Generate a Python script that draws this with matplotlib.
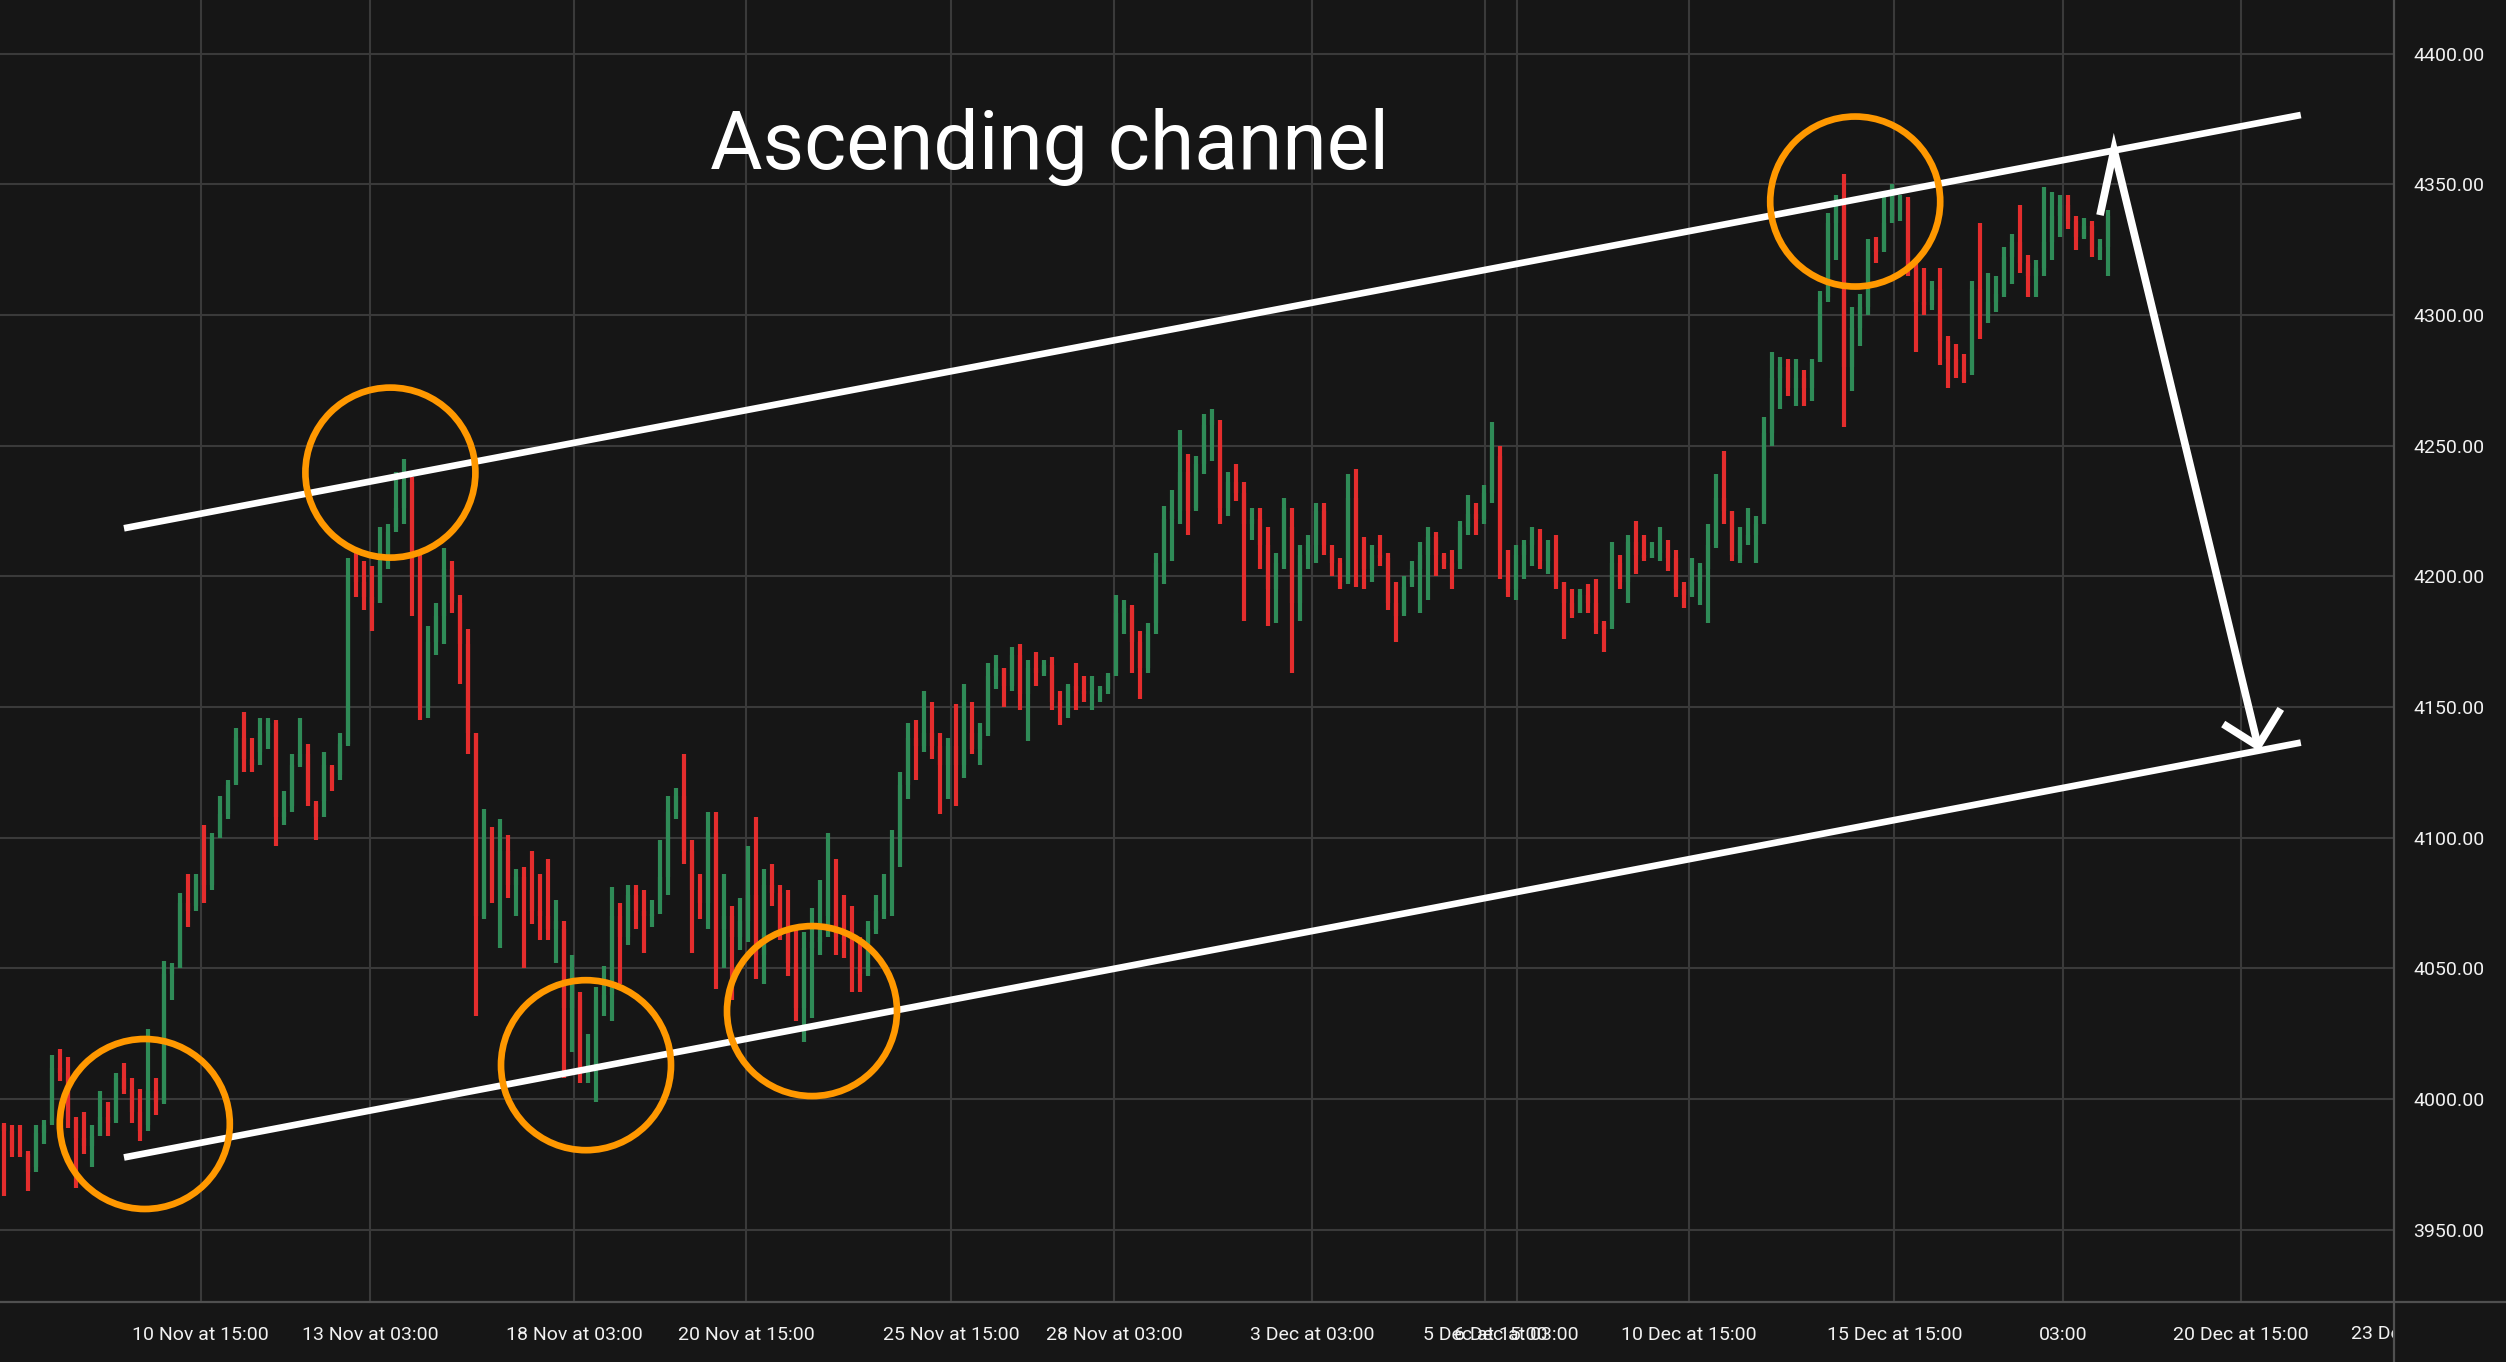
import matplotlib
matplotlib.use('Agg')
import matplotlib.pyplot as plt
from matplotlib.patches import Ellipse
from matplotlib.lines import Line2D
from matplotlib.transforms import Bbox, TransformedBbox, blended_transform_factory
from matplotlib.ticker import FormatStrFormatter

# ---------------- data ----------------
highs = [3991, 3990, 3990, 3980, 3990, 3992, 4017, 4019, 4016, 3993,
         3995, 3990, 4003, 3999, 4010, 4014, 4008, 4004, 4027, 4008,
         4053, 4052, 4079, 4086, 4086, 4105, 4102, 4116, 4122, 4142,
         4148, 4138, 4146, 4146, 4145, 4118, 4132, 4146, 4136, 4113,
         4133, 4127, 4140, 4207, 4210, 4206, 4204, 4219, 4220, 4240,
         4245, 4238, 4209, 4181, 4190, 4211, 4206, 4193, 4180, 4140,
         4111, 4104, 4107, 4101, 4088, 4089, 4095, 4086, 4092, 4076,
         4065, 4055, 4041, 4025, 4043, 4051, 4081, 4075, 4082, 4082,
         4080, 4076, 4099, 4116, 4119, 4132, 4099, 4086, 4110, 4110,
         4086, 4074, 4077, 4097, 4108, 4088, 4090, 4082, 4080, 4065,
         4064, 4073, 4084, 4102, 4092, 4078, 4074, 4062, 4068, 4078,
         4086, 4103, 4125, 4144, 4145, 4156, 4152, 4140, 4138, 4151,
         4159, 4140, 4144, 4167, 4170, 4165, 4173, 4174, 4168, 4171,
         4168, 4169, 4156, 4159, 4167, 4162, 4162, 4158, 4163, 4193,
         4191, 4189, 4179, 4182, 4209, 4227, 4233, 4256, 4247, 4246,
         4262, 4264, 4252, 4240, 4243, 4236, 4226, 4226, 4219, 4209,
         4230, 4219, 4212, 4216, 4228, 4228, 4210, 4207, 4239, 4241,
         4215, 4212, 4216, 4209, 4198, 4200, 4206, 4213, 4219, 4217,
         4209, 4210, 4221, 4231, 4228, 4235, 4259, 4246, 4210, 4212,
         4214, 4219, 4218, 4214, 4216, 4198, 4195, 4195, 4197, 4199,
         4183, 4213, 4208, 4216, 4221, 4216, 4213, 4219, 4214, 4210,
         4198, 4207, 4205, 4220, 4239, 4248, 4225, 4219, 4226, 4223,
         4261, 4286, 4284, 4283, 4283, 4279, 4283, 4309, 4339, 4346,
         4354, 4303, 4308, 4329, 4330, 4347, 4350, 4346, 4345, 4320,
         4318, 4313, 4318, 4292, 4289, 4285, 4313, 4335, 4316, 4315,
         4326, 4331, 4342, 4323, 4321, 4349, 4347, 4346, 4346, 4338,
         4337, 4336, 4329, 4340]

lows = [3963, 3978, 3978, 3965, 3974, 3983, 3991, 4007, 3989, 3966,
        3979, 3974, 3986, 3986, 3992, 4002, 3991, 3984, 3990, 3994,
        3998, 4038, 4050, 4066, 4074, 4075, 4080, 4102, 4107, 4121,
        4125, 4125, 4133, 4134, 4097, 4105, 4112, 4127, 4112, 4099,
        4114, 4118, 4124, 4135, 4192, 4187, 4179, 4190, 4203, 4219,
        4220, 4185, 4145, 4146, 4170, 4174, 4186, 4159, 4132, 4032,
        4069, 4075, 4058, 4077, 4070, 4050, 4067, 4061, 4061, 4052,
        4008, 4018, 4006, 4006, 3999, 4032, 4030, 4044, 4059, 4065,
        4056, 4066, 4076, 4078, 4107, 4090, 4056, 4069, 4065, 4042,
        4065, 4038, 4057, 4060, 4046, 4044, 4074, 4061, 4047, 4030,
        4022, 4031, 4055, 4070, 4055, 4054, 4041, 4041, 4047, 4063,
        4069, 4070, 4089, 4115, 4122, 4133, 4130, 4109, 4115, 4112,
        4123, 4132, 4128, 4139, 4157, 4150, 4156, 4149, 4137, 4158,
        4162, 4149, 4143, 4146, 4149, 4152, 4149, 4152, 4155, 4163,
        4178, 4163, 4153, 4163, 4182, 4197, 4206, 4220, 4216, 4226,
        4239, 4244, 4220, 4223, 4229, 4183, 4214, 4203, 4181, 4182,
        4203, 4163, 4183, 4203, 4205, 4208, 4200, 4195, 4197, 4196,
        4195, 4198, 4204, 4187, 4175, 4186, 4197, 4186, 4191, 4200,
        4203, 4195, 4206, 4216, 4216, 4220, 4228, 4199, 4192, 4191,
        4199, 4204, 4203, 4201, 4195, 4176, 4184, 4186, 4186, 4178,
        4171, 4183, 4195, 4190, 4201, 4206, 4207, 4206, 4202, 4192,
        4188, 4192, 4189, 4182, 4211, 4220, 4206, 4205, 4212, 4205,
        4221, 4250, 4264, 4269, 4265, 4265, 4267, 4282, 4307, 4321,
        4257, 4271, 4288, 4300, 4320, 4325, 4338, 4336, 4315, 4286,
        4300, 4302, 4281, 4272, 4276, 4274, 4277, 4291, 4297, 4301,
        4307, 4312, 4316, 4307, 4307, 4315, 4321, 4330, 4333, 4325,
        4329, 4322, 4321, 4315]

closes = [3988, 3980, 3979, 3972, 3987, 3990, 4012, 4010, 3992, 3985,
          3982, 3986, 3993, 3991, 4008, 4004, 3995, 3988, 4003, 3999,
          4048, 4050, 4075, 4072, 4084, 4082, 4100, 4109, 4120, 4138,
          4130, 4128, 4140, 4144, 4108, 4110, 4128, 4132, 4114, 4108,
          4128, 4122, 4136, 4200, 4198, 4192, 4190, 4206, 4217, 4226,
          4236, 4200, 4150, 4175, 4185, 4203, 4190, 4174, 4140, 4070,
          4100, 4080, 4095, 4082, 4085, 4080, 4072, 4070, 4065, 4068,
          4035, 4038, 4010, 4012, 4038, 4040, 4070, 4062, 4078, 4072,
          4070, 4071, 4085, 4110, 4116, 4095, 4080, 4075, 4102, 4050,
          4070, 4062, 4068, 4078, 4055, 4082, 4079, 4065, 4052, 4035,
          4058, 4060, 4062, 4080, 4062, 4060, 4050, 4048, 4065, 4072,
          4076, 4099, 4120, 4138, 4135, 4140, 4135, 4128, 4135, 4128,
          4152, 4134, 4140, 4162, 4165, 4158, 4170, 4155, 4165, 4163,
          4166, 4152, 4150, 4158, 4156, 4155, 4156, 4157, 4162, 4186,
          4188, 4175, 4165, 4178, 4205, 4222, 4225, 4240, 4225, 4243,
          4258, 4260, 4226, 4236, 4232, 4220, 4222, 4212, 4195, 4205,
          4226, 4190, 4208, 4212, 4225, 4212, 4205, 4198, 4230, 4210,
          4203, 4208, 4207, 4190, 4185, 4196, 4203, 4208, 4215, 4208,
          4205, 4203, 4219, 4224, 4222, 4232, 4250, 4210, 4195, 4208,
          4212, 4214, 4206, 4210, 4198, 4190, 4186, 4193, 4190, 4182,
          4180, 4205, 4198, 4213, 4208, 4207, 4209, 4210, 4207, 4195,
          4193, 4198, 4203, 4212, 4230, 4225, 4208, 4214, 4216, 4220,
          4255, 4276, 4280, 4272, 4276, 4272, 4282, 4305, 4335, 4342,
          4280, 4295, 4303, 4325, 4324, 4335, 4340, 4344, 4318, 4305,
          4304, 4310, 4290, 4283, 4279, 4278, 4310, 4300, 4305, 4308,
          4322, 4328, 4320, 4315, 4318, 4328, 4338, 4342, 4336, 4330,
          4334, 4325, 4326, 4338]

first_open = 3990

x_tick_pos = [24.6, 45.8, 71.3, 92.8, 118.4, 138.8, 163.5, 185.1, 189.1,
              210.6, 236.3, 257.4, 279.6]
x_tick_labels = ["10 Nov at 15:00", "13 Nov at 03:00", "18 Nov at 03:00",
                 "20 Nov at 15:00", "25 Nov at 15:00", "28 Nov at 03:00",
                 "3 Dec at 03:00", "5 Dec at 15:00", "6 Dec at 03:00",
                 "10 Dec at 15:00", "15 Dec at 15:00", "03:00",
                 "20 Dec at 15:00"]
clipped_label_pos = 301.9
clipped_label = "23 Dec at 03:00"
y_ticks = [3950, 4000, 4050, 4100, 4150, 4200, 4250, 4300, 4350, 4400]

title = "Ascending channel"
upper_x = [15.0, 287.1]
upper_y = [4218.4, 4376.5]
lower_x = [15.0, 287.1]
lower_y = [3977.7, 4136.4]
circle_x = [17.6, 48.3, 72.75, 101.0, 231.4]
circle_y = [3990.5, 4239.7, 4013.0, 4033.7, 4343.4]
arrow_x = [262.0, 263.75, 281.75]
arrow_y = [4338.2, 4363.1, 4135.1]
head_x = [277.4, 281.75, 284.6]
head_y = [4143.5, 4135.1, 4149.3]

# ---------------- style ----------------
W, H = 2506, 1362
BG = '#161616'
GRID = '#3a3a3a'
SEP = '#505050'
GREEN = '#2f8b57'
RED = '#e42d2d'
ORANGE = '#ff9800'
TXT = '#f2f2f2'
FONT = ['Roboto', 'DejaVu Sans']
plt.rcParams['font.family'] = FONT

fig = plt.figure(figsize=(W / 100, H / 100), dpi=100, facecolor=BG)
ax_left, ax_right = 0.0, 2394 / W
ax_bottom = 60 / H
ax = fig.add_axes([ax_left, ax_bottom, ax_right - ax_left, 1 - ax_bottom])
ax.set_facecolor(BG)
xmin, xmax = -0.5, 298.75
ymin, ymax = 3922.4, 4420.5
ax.set_xlim(xmin, xmax)
ax.set_ylim(ymin, ymax)
for s in ax.spines.values():
    s.set_visible(False)

# grid
ax.set_xticks(x_tick_pos)
ax.set_xticklabels(x_tick_labels)
ax.set_yticks(y_ticks)
ax.yaxis.set_major_formatter(FormatStrFormatter('%.2f'))
ax.yaxis.tick_right()
ax.grid(True, color=GRID, linewidth=1.5, zorder=0)
ax.set_axisbelow(True)
ax.tick_params(axis='x', length=0, pad=17, labelsize=14, labelcolor=TXT)
ax.tick_params(axis='y', length=0, pad=14, labelsize=14, labelcolor=TXT)
for lab in ax.get_yticklabels():
    lab.set_horizontalalignment('left')

# clipped far-right date label
trans = blended_transform_factory(ax.transData, ax.transAxes)
t = ax.text(clipped_label_pos, -0.0245, clipped_label, transform=trans,
            ha='center', va='center', fontsize=14, color=TXT, clip_on=True)
t.set_clip_box(TransformedBbox(Bbox([[0, 0], [ax_right, 1]]), fig.transFigure))

# candles
opens = [first_open] + closes[:-1]
xs = list(range(len(closes)))
cols = [GREEN if c >= o else RED for o, c in zip(opens, closes)]
ax.vlines(xs, lows, highs, colors=cols, linewidth=3.0, zorder=2)
ax.vlines(xs, opens, closes, colors=cols, linewidth=3.0, zorder=2)

# channel lines
ax.plot(upper_x, upper_y, color='white', lw=4.8, solid_capstyle='butt', zorder=3)
ax.plot(lower_x, lower_y, color='white', lw=4.8, solid_capstyle='butt', zorder=3)

# circles (round in pixel space)
px_per_x = ax.bbox.width / (xmax - xmin)
px_per_y = ax.bbox.height / (ymax - ymin)
r_px = 85
for cx, cy in zip(circle_x, circle_y):
    ax.add_patch(Ellipse((cx, cy), 2 * r_px / px_per_x, 2 * r_px / px_per_y,
                         fill=False, edgecolor=ORANGE, lw=4.8, zorder=4))

# arrow
ax.plot(arrow_x, arrow_y, color='white', lw=5.5, solid_joinstyle='miter',
        solid_capstyle='butt', zorder=5)
ax.plot(head_x, head_y, color='white', lw=5.5, solid_joinstyle='miter',
        solid_capstyle='butt', zorder=5)

# title
fig.text(1050 / W, 1 - 169 / H, title, ha='center', va='baseline',
         fontsize=58, color='white')

# separators
fig.add_artist(Line2D([0, 1], [ax_bottom, ax_bottom], transform=fig.transFigure,
                      color=SEP, lw=1.6))
fig.add_artist(Line2D([ax_right, ax_right], [0, 1], transform=fig.transFigure,
                      color=SEP, lw=1.6))

fig.savefig('out.png', dpi=100, facecolor=BG)
